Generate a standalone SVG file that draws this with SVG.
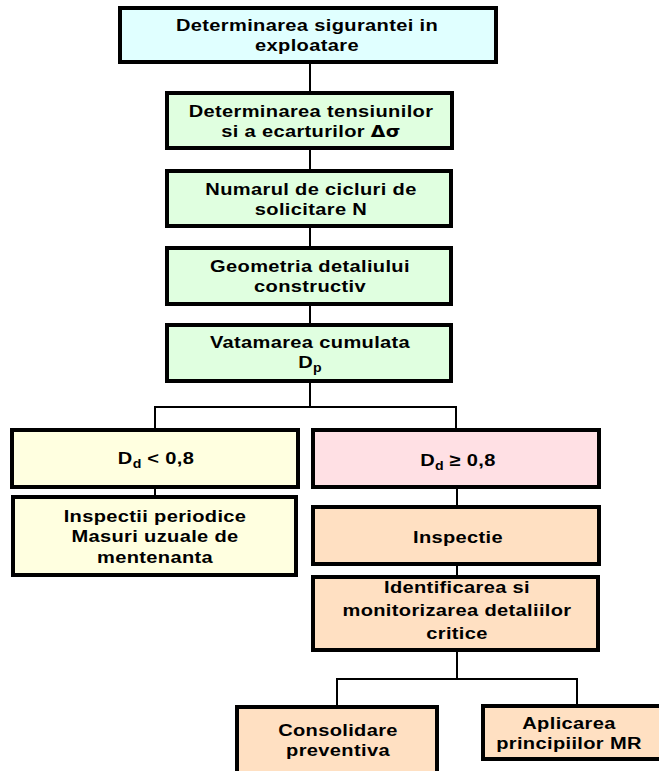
<svg xmlns="http://www.w3.org/2000/svg" width="659" height="771" viewBox="0 0 659 771">
  <style>
    .box { stroke: #000; stroke-width: 4; }
    .cyan { fill: #E0FFFF; }
    .green { fill: #E0FFE0; }
    .yellow { fill: #FFFFE0; }
    .pink { fill: #FFE0E4; }
    .peach { fill: #FFE0C2; }
    .lbl { font-family: "Liberation Sans", Arial, sans-serif; font-weight: bold; font-size: 17px; letter-spacing: 0.3px; text-anchor: middle; fill: #000; }
    .sub { font-size: 12px; letter-spacing: 0; }
    .greek { font-family: "DejaVu Sans", sans-serif; font-size: 16px; }
    .wire { stroke: #000; stroke-width: 2; fill: none; }
  </style>
  <rect width="659" height="771" fill="#fff"/>

  <!-- connectors -->
  <g id="connectors">
    <path class="wire" d="M310 62V93 M310 148V171 M310 226V248 M310 304V325 M310 381V407"/>
    <path class="wire" d="M155 430V407H456V430"/>
    <path class="wire" d="M155 487V497"/>
    <path class="wire" d="M457 487V507 M457 564V577 M457 650V679"/>
    <path class="wire" d="M337 707V679H577V706"/>
  </g>

  <!-- labels are drawn slightly widened: scale(1.18,1) around each box centre -->
  <g id="n-siguranta">
    <rect class="box cyan" x="120" y="8" width="376" height="54"/>
    <g transform="translate(307,0) scale(1.18,1)">
      <text class="lbl" x="0" y="31">Determinarea sigurantei in</text>
      <text class="lbl" x="0" y="51">exploatare</text>
    </g>
  </g>

  <g id="n-tensiuni">
    <rect class="box green" x="167" y="93" width="285" height="55"/>
    <g transform="translate(311,0) scale(1.18,1)">
      <text class="lbl" x="0" y="117">Determinarea tensiunilor</text>
      <text class="lbl" x="0" y="137">si a ecarturilor <tspan class="greek">Δσ</tspan></text>
    </g>
  </g>

  <g id="n-cicluri">
    <rect class="box green" x="167" y="171" width="284" height="55"/>
    <g transform="translate(311,0) scale(1.18,1)">
      <text class="lbl" x="0" y="195">Numarul de cicluri de</text>
      <text class="lbl" x="0" y="215">solicitare N</text>
    </g>
  </g>

  <g id="n-geometrie">
    <rect class="box green" x="167" y="248" width="284" height="56"/>
    <g transform="translate(310,0) scale(1.18,1)">
      <text class="lbl" x="0" y="272">Geometria detaliului</text>
      <text class="lbl" x="0" y="292">constructiv</text>
    </g>
  </g>

  <g id="n-vatamare">
    <rect class="box green" x="167" y="325" width="284" height="56"/>
    <g transform="translate(310,0) scale(1.18,1)">
      <text class="lbl" x="0" y="348">Vatamarea cumulata</text>
      <text class="lbl" x="0" y="368">D<tspan class="sub" dy="4">p</tspan></text>
    </g>
  </g>

  <g id="n-dd-mic">
    <rect class="box yellow" x="12" y="430" width="286" height="57"/>
    <g transform="translate(156,0) scale(1.18,1)">
      <text class="lbl" x="0" y="464">D<tspan class="sub" dy="4">d</tspan><tspan dy="-4"> &lt; 0,8</tspan></text>
    </g>
  </g>

  <g id="n-inspectii-periodice">
    <rect class="box yellow" x="13" y="497" width="283" height="78"/>
    <g transform="translate(155,0) scale(1.18,1)">
      <text class="lbl" x="0" y="522">Inspectii periodice</text>
      <text class="lbl" x="0" y="542">Masuri uzuale de</text>
      <text class="lbl" x="0" y="563">mentenanta</text>
    </g>
  </g>

  <g id="n-dd-mare">
    <rect class="box pink" x="313" y="430" width="286" height="57"/>
    <g transform="translate(458,0) scale(1.18,1)">
      <text class="lbl" x="0" y="466">D<tspan class="sub" dy="4">d</tspan><tspan dy="-4"> ≥ 0,8</tspan></text>
    </g>
  </g>

  <g id="n-inspectie">
    <rect class="box peach" x="313" y="507" width="286" height="57"/>
    <g transform="translate(458,0) scale(1.18,1)">
      <text class="lbl" x="0" y="543">Inspectie</text>
    </g>
  </g>

  <g id="n-identificare">
    <rect class="box peach" x="313" y="577" width="285" height="73"/>
    <g transform="translate(457,0) scale(1.18,1)">
      <text class="lbl" x="0" y="593">Identificarea si</text>
      <text class="lbl" x="0" y="616">monitorizarea detaliilor</text>
      <text class="lbl" x="0" y="639">critice</text>
    </g>
  </g>

  <g id="n-consolidare">
    <rect class="box peach" x="237" y="707" width="200" height="70"/>
    <g transform="translate(338,0) scale(1.18,1)">
      <text class="lbl" x="0" y="736">Consolidare</text>
      <text class="lbl" x="0" y="756">preventiva</text>
    </g>
  </g>

  <g id="n-aplicare">
    <rect class="box peach" x="483" y="706" width="180" height="53"/>
    <g transform="translate(569,0) scale(1.18,1)">
      <text class="lbl" x="0" y="729">Aplicarea</text>
      <text class="lbl" x="0" y="749">principiilor MR</text>
    </g>
  </g>
</svg>
